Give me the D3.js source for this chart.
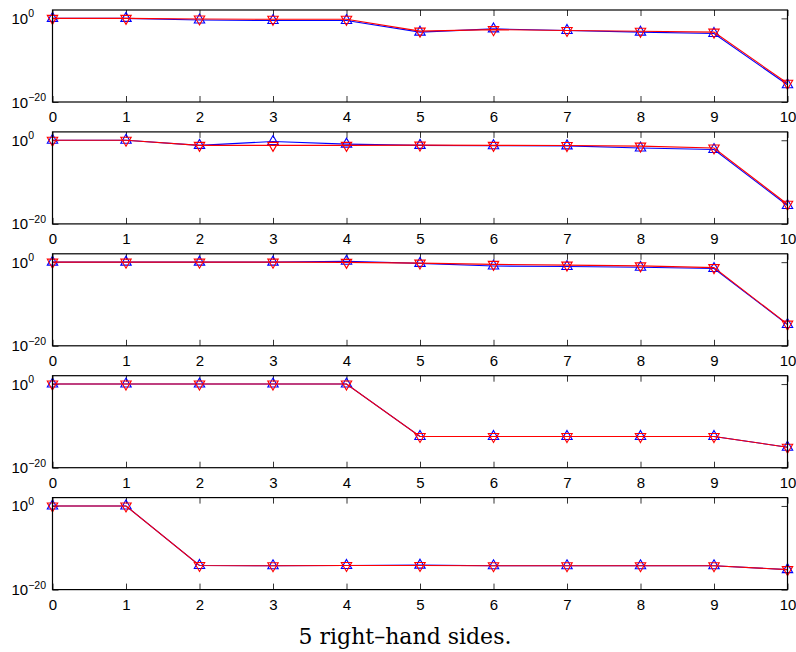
<!DOCTYPE html>
<html>
<head>
<meta charset="utf-8">
<script src="https://cdn.jsdelivr.net/npm/d3@7"></script>
<style>
  html, body { margin: 0; padding: 0; background: #fff; }
  svg { display: block; }
</style>
</head>
<body>
<svg id="chart" width="796" height="652"></svg>
<script>
// Iteration index on the horizontal axis
const steps = [0, 1, 2, 3, 4, 5, 6, 7, 8, 9, 10];
const xTickLabels = ["0", "1", "2", "3", "4", "5", "6", "7", "8", "9", "10"];
// Logarithmic vertical axis: two labelled decades
const yTickValues = [1e-20, 1e0];
const yTickExponents = ["\u221220", "0"];
const caption = "5 right\u2013hand sides.";

// Residual histories, one pair of curves per right-hand side
const blue1 = [1, 1, 0.4, 0.3, 0.3, 5e-4, 3e-3, 1.3e-3, 5e-4, 2.5e-4, 1.3e-16];
const red1  = [1, 1, 0.7, 0.6, 0.6, 9e-4, 2e-3, 1.3e-3, 8e-4, 5e-4, 3e-16];

const blue2 = [1, 1, 0.06, 0.5, 0.12, 0.06, 0.05, 0.045, 0.014, 6e-3, 2.5e-16];
const red2  = [1, 1, 0.06, 0.06, 0.06, 0.07, 0.06, 0.055, 0.04, 0.014, 5e-16];

const blue3 = [1, 1, 1, 1, 1.6, 0.5, 0.12, 0.09, 0.06, 0.03, 1.2e-15];
const red3  = [1, 1, 1, 1, 0.9, 0.6, 0.3, 0.2, 0.13, 0.05, 1.5e-15];

const blue4 = [1, 1, 1, 1, 1, 3e-13, 3e-13, 3e-13, 3e-13, 3e-13, 8e-16];
const red4  = [1, 1, 1, 1, 1, 3e-13, 3e-13, 2.8e-13, 2.8e-13, 2.8e-13, 8e-16];

const blue5 = [1, 1, 6e-15, 5e-15, 6e-15, 7e-15, 5e-15, 5e-15, 5e-15, 5e-15, 6e-16];
const red5  = [1, 1, 6e-15, 5e-15, 6e-15, 6e-15, 5e-15, 5e-15, 5e-15, 5e-15, 6e-16];

const panels = [
  { blue: blue1, red: red1 },
  { blue: blue2, red: red2 },
  { blue: blue3, red: red3 },
  { blue: blue4, red: red4 },
  { blue: blue5, red: red5 }
];

const sans = "'Liberation Sans', Arial, Helvetica, sans-serif";
const svg = d3.select("#chart");
const left = 52.5, right = 787.5;
const panelTop0 = 10, panelStep = 121.9, panelH = 92;
const tickLen = 6;

const x = d3.scaleLinear().domain([0, 10]).range([left, right]);

// Marker shapes: upward and downward triangles centred on the centroid
const r = 6;
const upTri = `M0,${-r}L${r * 0.866},${r / 2}L${-r * 0.866},${r / 2}Z`;
const downTri = `M0,${r}L${r * 0.866},${-r / 2}L${-r * 0.866},${-r / 2}Z`;

panels.forEach((p, i) => {
  const top = panelTop0 + i * panelStep;
  const bottom = top + panelH;
  const y = d3.scaleLog().domain([1e-20, 1e2]).range([bottom, top]);
  const g = svg.append("g");

  // Bottom axis with labels, ticks pointing inward
  const ax = g.append("g").attr("transform", `translate(0,${bottom})`)
    .call(d3.axisBottom(x).tickValues(steps).tickSize(-tickLen)
      .tickFormat((d, k) => xTickLabels[k]));
  // Top axis, ticks only
  const axTop = g.append("g").attr("transform", `translate(0,${top})`)
    .call(d3.axisTop(x).tickValues(steps).tickSize(-tickLen).tickFormat(""));
  // Left axis, ticks only (labels drawn below as 10^n)
  const axL = g.append("g").attr("transform", `translate(${left},0)`)
    .call(d3.axisLeft(y).tickValues(yTickValues).tickSize(-tickLen).tickFormat(""));
  // Right axis, ticks only
  const axR = g.append("g").attr("transform", `translate(${right},0)`)
    .call(d3.axisRight(y).tickValues(yTickValues).tickSize(-tickLen).tickFormat(""));

  [ax, axTop, axL, axR].forEach(a => {
    a.select(".domain").remove();
    a.selectAll(".tick line").attr("stroke", "#000").attr("stroke-width", 0.8);
  });
  ax.selectAll(".tick text")
    .attr("font-family", sans)
    .attr("font-size", 15).attr("fill", "#000").attr("dy", null).attr("y", 20);

  // Exponent-style labels on the left
  yTickValues.forEach((v, k) => {
    const t = g.append("text")
      .attr("x", 11.5).attr("y", y(v) + 5.5)
      .attr("text-anchor", "start")
      .attr("font-family", sans)
      .attr("font-size", 15).attr("fill", "#000");
    t.append("tspan").text("10");
    t.append("tspan").attr("dy", -6.5).attr("font-size", 10.5).text(yTickExponents[k]);
  });

  const line = d3.line().x((d, k) => x(steps[k])).y(d => y(d));

  [["blue", "#0000ff", upTri], ["red", "#ff0000", downTri]].forEach(([key, col, shape]) => {
    g.append("path").datum(p[key]).attr("d", line)
      .attr("fill", "none").attr("stroke", col).attr("stroke-width", 1.1);
    g.selectAll(null).data(p[key]).enter().append("path")
      .attr("d", shape)
      .attr("transform", (d, k) => `translate(${x(steps[k])},${y(d)})`)
      .attr("fill", "none").attr("stroke", col).attr("stroke-width", 1.1);
  });

  // Axes box
  g.append("rect").attr("x", left).attr("y", top)
    .attr("width", right - left).attr("height", panelH)
    .attr("fill", "none").attr("stroke", "#000").attr("stroke-width", 1.2);
});

svg.append("text")
  .attr("x", 405).attr("y", 644)
  .attr("text-anchor", "middle")
  .attr("font-family", "'DejaVu Serif', serif")
  .attr("font-size", 22).attr("fill", "#000")
  .text(caption);
</script>
</body>
</html>
